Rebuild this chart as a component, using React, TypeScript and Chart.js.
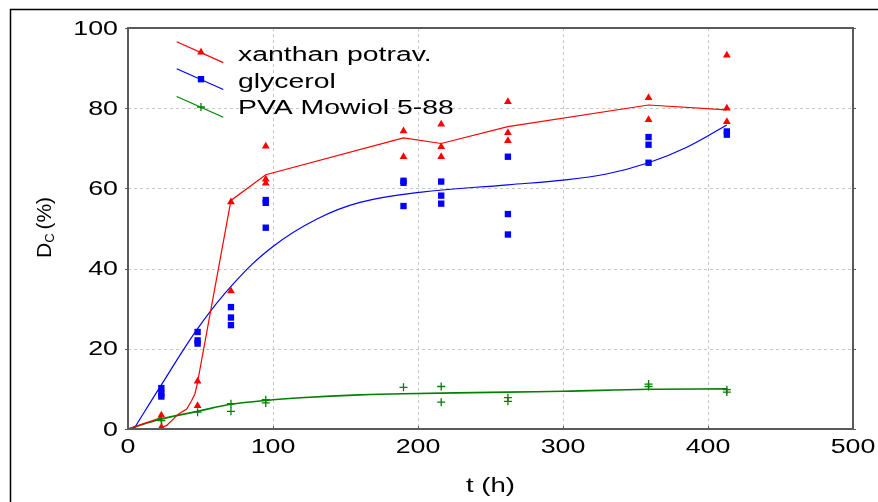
import { useEffect, useRef } from "react";
import { Chart, registerables } from "chart.js";

Chart.register(...registerables);

// Measured samples: [time (h), D_C (%)]
const xanthanPoints = [
  [23, 3.4], [23, 0.4],
  [48, 11.9], [48, 5.8],
  [71, 56.6], [71, 34.4],
  [95, 70.5], [95, 62.3], [95, 61.3],
  [190, 74.3], [190, 67.9],
  [216, 76.0], [216, 70.4], [216, 67.9],
  [262, 81.6], [262, 73.9], [262, 71.9],
  [359, 82.6], [359, 77.1],
  [413, 93.2], [413, 80.0], [413, 76.6],
];

const glycerolPoints = [
  [23, 10.2], [23, 8.9], [23, 8.1],
  [48, 24.2], [48, 22.1], [48, 21.3],
  [71, 30.4], [71, 27.8], [71, 25.9],
  [95, 57.1], [95, 56.4], [95, 50.2],
  [190, 61.9], [190, 61.4], [190, 55.6],
  [216, 61.7], [216, 58.2], [216, 56.2],
  [262, 67.9], [262, 53.6], [262, 48.5],
  [359, 72.8], [359, 70.9], [359, 66.4],
  [413, 74.2], [413, 73.4],
];

const pvaPoints = [
  [23, 2.6], [23, 2.1],
  [48, 4.2],
  [71, 6.3], [71, 4.4],
  [95, 7.3], [95, 6.5],
  [190, 10.4],
  [216, 10.6], [216, 6.7],
  [262, 7.8], [262, 6.9],
  [359, 11.2], [359, 10.6],
  [413, 9.8], [413, 9.2],
];

// Fitted curves
const xanthanFit = [
  [0, 0], [21, 2.6], [22.8, 3.2], [23.5, 0.4], [26.7, 0.9], [34.7, 3.7],
  [40.5, 5.0], [43.9, 7.1], [46.2, 8.8], [47.8, 11.3], [71, 57.0],
  [95, 63.4], [190, 72.6], [216, 71.2], [262, 75.4], [359, 80.8], [413, 79.6],
];

const glycerolFit = [
  [4, 0], [23, 11], [48.5, 25.3], [72.6, 36.2],
  [100, 45.5], [130, 52.3], [160, 56.5], [201, 59.0], [262, 60.9],
  [298, 62.0], [330, 63.6], [359, 66.4], [385, 70.2], [413, 75.8],
];

const pvaFit = [
  [0, 0], [23, 2.5], [48, 4.4], [70, 6.1], [100, 7.3], [119, 7.8],
  [160, 8.5], [190, 8.8], [262, 9.2], [300, 9.4], [359, 9.9], [413, 10.0],
];

const xTicks = [0, 100, 200, 300, 400, 500];
const yTicks = [0, 20, 40, 60, 80, 100];

const seriesNames = ["xanthan potrav.", "glycerol", "PVA Mowiol 5-88"];
const seriesColors = ["#ff0000", "#0000ff", "#008000"];
const seriesMarkers = ["triangle", "rect", "cross"];

const xTitle = "t (h)";
const yTitleMain = "D";
const yTitleSub = "C";
const yTitleRest = " (%)";

const FONT = "'Liberation Sans', Arial, sans-serif";

const toXY = (arr: number[][]) => arr.map(([x, y]) => ({ x, y }));

function stretched(
  ctx: CanvasRenderingContext2D,
  text: string,
  x: number,
  y: number,
  sx: number,
  align: CanvasTextAlign
) {
  ctx.save();
  ctx.translate(x, y);
  ctx.scale(sx, 1);
  ctx.textAlign = align;
  ctx.textBaseline = "alphabetic";
  ctx.fillText(text, 0, 0);
  ctx.restore();
}

function drawMarker(ctx: CanvasRenderingContext2D, style: string, x: number, y: number, color: string) {
  ctx.save();
  ctx.fillStyle = color;
  ctx.strokeStyle = color;
  if (style === "triangle") {
    ctx.beginPath();
    ctx.moveTo(x, y - 4.5);
    ctx.lineTo(x + 3.9, y + 2.3);
    ctx.lineTo(x - 3.9, y + 2.3);
    ctx.closePath();
    ctx.fill();
  } else if (style === "rect") {
    ctx.fillRect(x - 3.2, y - 3.2, 6.4, 6.4);
  } else {
    ctx.lineWidth = 1.3;
    ctx.beginPath();
    ctx.moveTo(x - 4, y);
    ctx.lineTo(x + 4, y);
    ctx.moveTo(x, y - 4);
    ctx.lineTo(x, y + 4);
    ctx.stroke();
  }
  ctx.restore();
}

const framePlugin = {
  id: "statFrame",
  beforeDatasetsDraw(chart: any) {
    const { ctx, chartArea: a, scales } = chart;
    const sx = scales.x;
    const sy = scales.y;
    ctx.save();
    ctx.strokeStyle = "#c8c8c8";
    ctx.lineWidth = 1;
    ctx.setLineDash([3, 3]);
    xTicks.slice(1, -1).forEach((v) => {
      const px = Math.round(sx.getPixelForValue(v)) + 0.5;
      ctx.beginPath();
      ctx.moveTo(px, a.top);
      ctx.lineTo(px, a.bottom);
      ctx.stroke();
    });
    yTicks.slice(1, -1).forEach((v) => {
      const py = Math.round(sy.getPixelForValue(v)) + 0.5;
      ctx.beginPath();
      ctx.moveTo(a.left, py);
      ctx.lineTo(a.right, py);
      ctx.stroke();
    });
    ctx.restore();
  },
  afterDatasetsDraw(chart: any) {
    const { ctx, chartArea: a, scales } = chart;
    const sx = scales.x;
    const sy = scales.y;
    ctx.save();

    // outer frame
    ctx.strokeStyle = "#000";
    ctx.lineWidth = 1.5;
    ctx.beginPath();
    ctx.moveTo(10.5, chart.height + 2);
    ctx.lineTo(10.5, 9.5);
    ctx.lineTo(chart.width + 2, 9.5);
    ctx.stroke();

    // plot box
    ctx.strokeStyle = "#5a5a5a";
    ctx.lineWidth = 2;
    ctx.strokeRect(a.left, a.top, a.right - a.left, a.bottom - a.top);

    // tick marks
    ctx.lineWidth = 1;
    xTicks.forEach((v) => {
      const px = Math.round(sx.getPixelForValue(v)) + 0.5;
      ctx.beginPath();
      ctx.moveTo(px, a.bottom);
      ctx.lineTo(px, a.bottom - 3);
      ctx.stroke();
    });
    yTicks.forEach((v) => {
      const py = Math.round(sy.getPixelForValue(v)) + 0.5;
      ctx.beginPath();
      ctx.moveTo(a.left - 3, py);
      ctx.lineTo(a.left, py);
      ctx.moveTo(a.right, py);
      ctx.lineTo(a.right + 3, py);
      ctx.stroke();
    });

    // tick labels
    ctx.fillStyle = "#000";
    ctx.font = `20px ${FONT}`;
    xTicks.forEach((v) => {
      stretched(ctx, String(v), sx.getPixelForValue(v), a.bottom + 23.5, 1.34, "center");
    });
    yTicks.forEach((v) => {
      stretched(ctx, String(v), a.left - 10, sy.getPixelForValue(v) + 6.5, 1.34, "right");
    });

    // axis titles
    ctx.font = `20px ${FONT}`;
    stretched(ctx, xTitle, (a.left + a.right) / 2, 492, 1.38, "center");

    ctx.save();
    ctx.translate(51, 258);
    ctx.rotate(-Math.PI / 2);
    ctx.textAlign = "left";
    ctx.textBaseline = "alphabetic";
    ctx.font = `21px ${FONT}`;
    ctx.fillText(yTitleMain, 0, 0);
    let off = ctx.measureText(yTitleMain).width;
    ctx.font = `13px ${FONT}`;
    ctx.fillText(yTitleSub, off, 3);
    off += ctx.measureText(yTitleSub).width;
    ctx.font = `21px ${FONT}`;
    ctx.fillText(yTitleRest, off - 2, 0);
    ctx.restore();

    // legend
    const rowY = [52.3, 79.2, 107];
    const baseY = [61, 87.7, 114.3];
    seriesNames.forEach((name, i) => {
      const cy = rowY[i];
      ctx.strokeStyle = seriesColors[i];
      ctx.lineWidth = 1.2;
      ctx.beginPath();
      ctx.moveTo(176.7, cy - 10.5);
      ctx.lineTo(223.3, cy + 10.3);
      ctx.stroke();
      drawMarker(ctx, seriesMarkers[i], 201, cy, seriesColors[i]);
      ctx.fillStyle = "#000";
      ctx.font = `20px ${FONT}`;
      stretched(ctx, name, 238, baseY[i], 1.42, "left");
    });

    ctx.restore();
  },
};

export default function App() {
  const ref = useRef<HTMLCanvasElement | null>(null);

  useEffect(() => {
    const canvas = ref.current;
    if (!canvas) return;

    const pointSet = (label: string, data: number[][], i: number, radius: number) => ({
      type: "scatter" as const,
      label,
      data: toXY(data),
      pointStyle: seriesMarkers[i],
      pointRadius: radius,
      pointBackgroundColor: seriesColors[i],
      pointBorderColor: seriesColors[i],
      pointBorderWidth: i === 2 ? 1.3 : 0,
      showLine: false,
    });

    const fitSet = (label: string, data: number[][], i: number, tension: number, width: number) => ({
      type: "line" as const,
      label,
      data: toXY(data),
      borderColor: seriesColors[i],
      borderWidth: width,
      pointRadius: 0,
      fill: false,
      tension,
    });

    const chart = new Chart(canvas, {
      type: "scatter",
      data: {
        datasets: [
          pointSet(seriesNames[0], xanthanPoints, 0, 4.5),
          pointSet(seriesNames[1], glycerolPoints, 1, 4.5),
          pointSet(seriesNames[2], pvaPoints, 2, 4),
          fitSet(seriesNames[0] + " fit", xanthanFit, 0, 0, 1.2),
          fitSet(seriesNames[1] + " fit", glycerolFit, 1, 0.4, 1.2),
          fitSet(seriesNames[2] + " fit", pvaFit, 2, 0.4, 1.6),
        ] as any,
      },
      options: {
        responsive: false,
        animation: false,
        events: [],
        layout: { padding: { left: 128, top: 28, right: 25, bottom: 73 } },
        plugins: {
          legend: { display: false },
          tooltip: { enabled: false },
        },
        scales: {
          x: {
            type: "linear",
            min: 0,
            max: 500,
            ticks: { display: false, stepSize: 100 },
            grid: { display: false, drawTicks: false },
            border: { display: false },
          },
          y: {
            type: "linear",
            min: 0,
            max: 100,
            ticks: { display: false, stepSize: 20 },
            grid: { display: false, drawTicks: false },
            border: { display: false },
          },
        },
      },
      plugins: [framePlugin],
    });

    return () => chart.destroy();
  }, []);

  return (
    <canvas
      ref={ref}
      width={878}
      height={502}
      style={{ position: "fixed", left: 0, top: 0, width: 878, height: 502, background: "#fff" }}
    />
  );
}
